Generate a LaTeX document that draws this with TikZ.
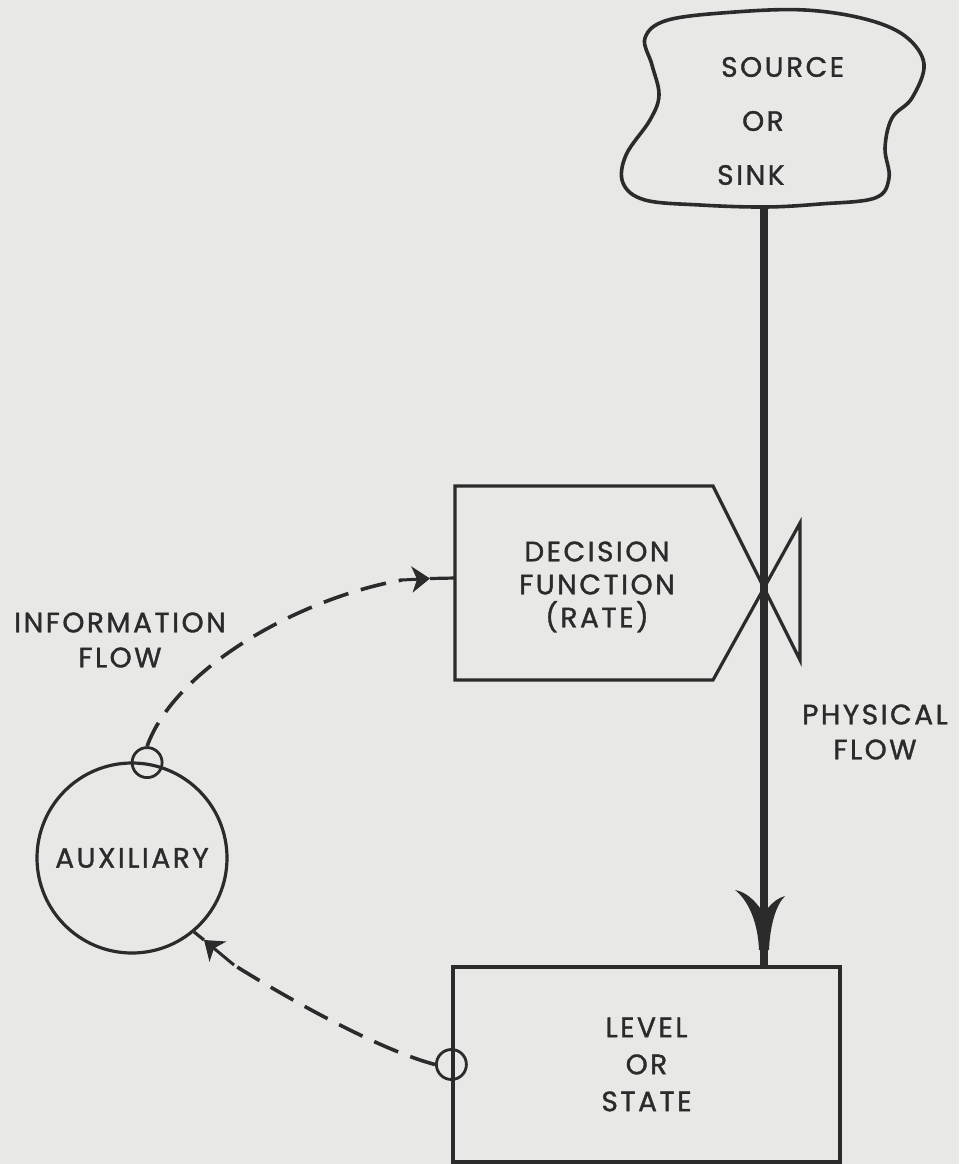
\documentclass[tikz,border=0pt]{standalone}
\usepackage{fontspec}
\newfontfamily\labfam{Poppins}[LetterSpace=9,FakeBold=1.3]
\usetikzlibrary{arrows.meta}
\definecolor{ink}{HTML}{2B2B2B}
\definecolor{paper}{HTML}{E8E8E6}
\newcommand\labfont{\labfam\fontsize{28}{35}\selectfont}
\tikzset{
  lab/.style={font=\labfont, align=center, inner sep=0pt, text=ink},
  outline/.style={draw=ink, line width=3.2pt},
  tap/.style={circle, draw=ink, line width=2.8pt, minimum size=30pt, inner sep=0pt},
  info/.style={draw=ink, line width=3.6pt, dash pattern=on 26pt off 13pt},
  flow/.style={draw=ink, line width=8pt},
  dart/.style={-{Stealth[length=18pt,width=26pt,inset=5pt]}, draw=ink, fill=ink, line width=3pt},
  stub/.style={draw=ink, line width=3.2pt},
}
\begin{document}
\begin{tikzpicture}[x=1pt,y=-1pt]
\fill[paper] (0,0) rectangle (959,1164);
\useasboundingbox (0,0) rectangle (959,1164);

% source / sink cloud
\draw[outline, line width=3.6pt] plot[smooth cycle, tension=0.6] coordinates {
 (645,38) (668,20) (735,12) (805,10) (865,19) (905,36) (924,64) (912,98)
 (892,118) (885,148) (889,178) (875,198) (820,204) (765,207) (700,205)
 (645,200) (623,183) (626,155) (650,120) (659,95) (652,65)};
\node[lab, align=left, anchor=west, font=\labfam\fontsize{28}{54}\selectfont] (cloud) at (717,121)
  {\hspace*{4pt}SOURCE\\\hspace*{25pt}OR\\SINK};
\coordinate (cloudbot) at (764,207);

% decision function (rate) with valve
\draw[outline] (713,486) -- (455,486) -- (455,680) -- (713,680) -- (800,523) -- (800,660) -- cycle;
\node[lab, font=\labfam\fontsize{28}{33}\selectfont] (decision) at (597,587) {DECISION\\FUNCTION\\(RATE)};
\coordinate (decin) at (455,578);

% level or state
\node[outline, lab, minimum width=387pt, minimum height=195pt, font=\labfam\fontsize{28}{37}\selectfont] (level) at (646.5,1064.5) {LEVEL\\OR\\STATE};

% auxiliary
\node[circle, outline, minimum size=190pt, inner sep=0pt, lab] (aux) at (132,858) {AUXILIARY};

% information take-off points
\node[tap] (tapA) at (aux.81) {};
\node[tap] (tapL) at (level.west) {};

% physical flow
\draw[flow] (cloudbot) -- (level.north -| cloudbot);
\fill[ink] (759,950) .. controls (758,922) and (748,900) .. (735,890)
  .. controls (746,892) and (754,900) .. (760,908) -- (768,908)
  .. controls (773,902) and (778,898) .. (785,896)
  .. controls (776,905) and (770,925) .. (769,950) -- cycle;
\node[lab] (phys) at (875,732) {PHYSICAL\\FLOW};

% information flow to decision
\draw[info] (tapA.north) .. controls (175,668) and (300,598) .. (402,580) coordinate (i2);
\draw[dart] (i2) -- (430,578.5) coordinate (i3);
\draw[stub] (i3) -- (decin);
\node[lab] (info) at (120,640) {INFORMATION\\FLOW};

% information flow from level to auxiliary
\draw[info] (tapL.west) .. controls (380,1050) and (290,1000) .. (234,965) coordinate (j1);
\draw[dart] (j1) -- (204,940) coordinate (j2);
\draw[stub] (j2) -- (aux.-50);
\end{tikzpicture}
\end{document}
